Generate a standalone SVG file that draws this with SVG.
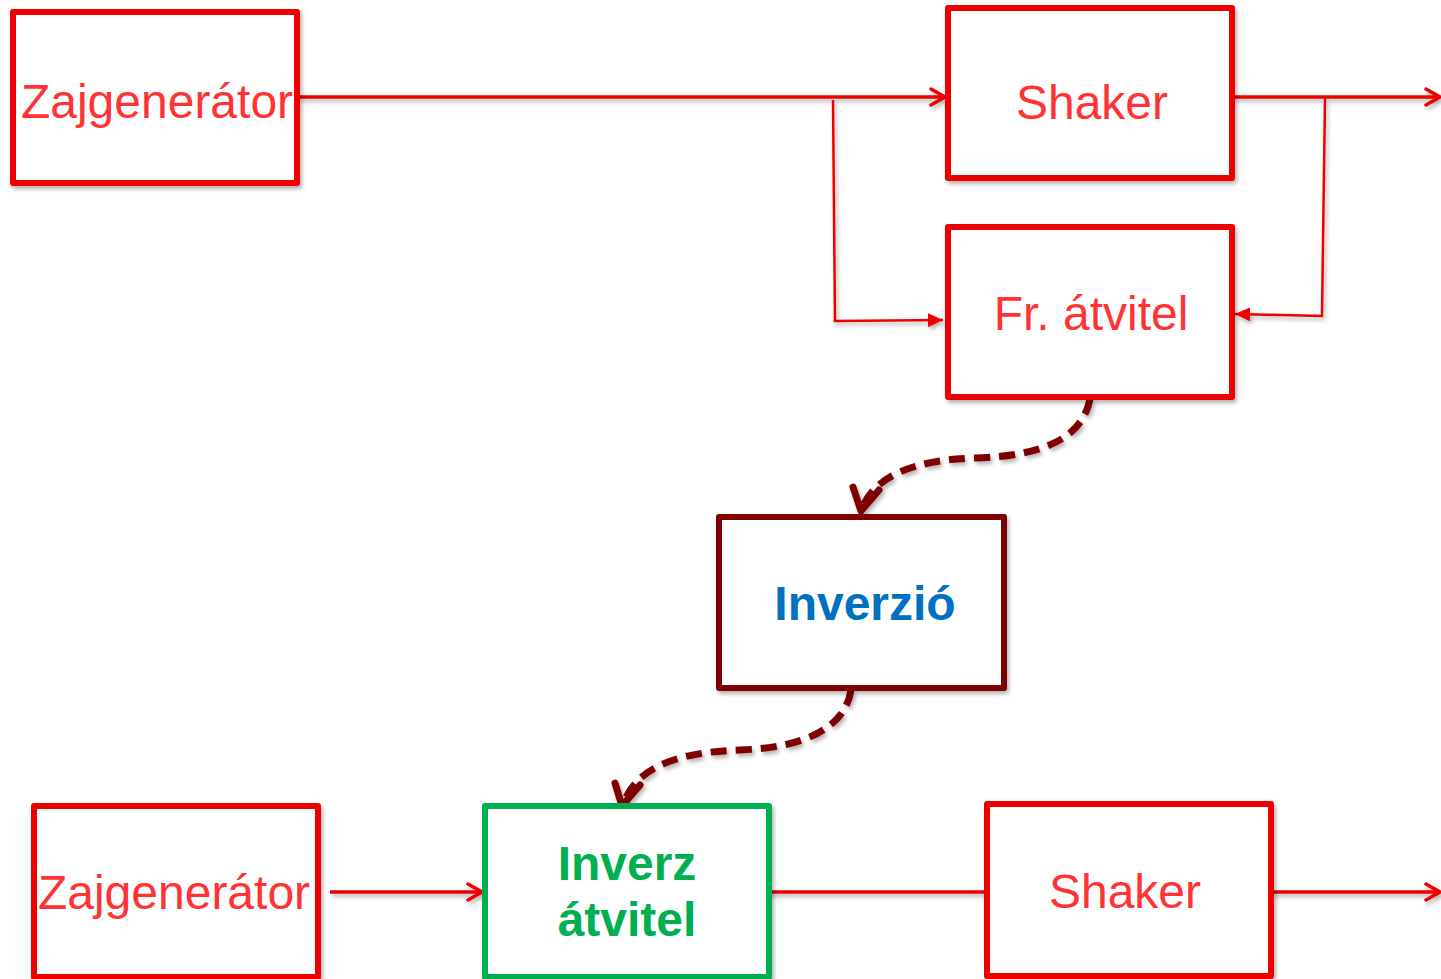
<svg xmlns="http://www.w3.org/2000/svg" width="1441" height="979" viewBox="0 0 1441 979">
<style>
.box{fill:#fff;stroke:#EE0000;stroke-width:6;stroke-linejoin:round}
.lbl{font-family:"Liberation Sans",Arial,sans-serif;font-size:48px;fill:#FF3333;text-anchor:middle}
.bold{font-weight:bold}
.ln{fill:none;stroke:#EE0000;stroke-width:3.5}
.thin{fill:none;stroke:#EE0000;stroke-width:2.5}
.dash{fill:none;stroke:#7F0000;stroke-width:7;stroke-dasharray:16 9}
.head{fill:none;stroke:#7F0000;stroke-width:7;stroke-linecap:round;stroke-linejoin:round}
</style>
<defs>
<filter id="sh" x="-10%" y="-10%" width="130%" height="130%">
<feDropShadow dx="2" dy="3" stdDeviation="2" flood-color="#000" flood-opacity="0.3"/>
</filter>
<marker id="open" viewBox="0 0 20 20" refX="18" refY="10" markerWidth="20" markerHeight="20" markerUnits="userSpaceOnUse" orient="auto">
<path d="M4,2 L18,10 L4,18" fill="none" stroke="#EE0000" stroke-width="3.5" stroke-linecap="round" stroke-linejoin="round"/>
</marker>
<marker id="tri" viewBox="0 0 16 16" refX="15" refY="8" markerWidth="16" markerHeight="16" markerUnits="userSpaceOnUse" orient="auto">
<path d="M0,1 L15,8 L0,15 Z" fill="#EE0000"/>
</marker>
</defs>
<g id="connectors" filter="url(#sh)">
<path class="ln" d="M297,97 L945,97" marker-end="url(#open)"/>
<path class="thin" d="M833,100 L835,321 L943,320" marker-end="url(#tri)"/>
<path class="ln" d="M1232,97 L1440,97" marker-end="url(#open)"/>
<path class="thin" d="M1325,98 L1322,316 L1235,314" marker-end="url(#tri)"/>
<path class="dash" d="M1090,399 C1082,440 1040,456 975,458 C915,460 876,475 862,508"/>
<path class="head" d="M853,487 L861,511 L879,490"/>
<path class="dash" d="M851,690 C845,730 800,748 740,750 C680,752 638,766 624,802"/>
<path class="head" d="M615,783 L622,806 L640,785"/>
<path class="ln" d="M330,892 L482,892" marker-end="url(#open)"/>
<path class="ln" d="M767,892 L987,892"/>
<path class="ln" d="M1271,892 L1440,892" marker-end="url(#open)"/>
</g>
<g id="zaj1"><rect class="box" x="13" y="12" width="284" height="171" filter="url(#sh)"/><text class="lbl" x="157" y="118">Zajgenerátor</text></g>
<g id="shaker1"><rect class="box" x="948" y="8" width="284" height="170" filter="url(#sh)"/><text class="lbl" x="1092" y="119">Shaker</text></g>
<g id="frat"><rect class="box" x="948" y="227" width="284" height="170" filter="url(#sh)"/><text class="lbl" x="1091" y="330">Fr. átvitel</text></g>
<g id="inverzio"><rect class="box" style="stroke:#7F0000" x="719" y="517" width="285" height="171" filter="url(#sh)"/><text class="lbl bold" style="fill:#0070C0" x="865" y="620">Inverzió</text></g>
<g id="zaj2"><rect class="box" x="34" y="806" width="284" height="171" filter="url(#sh)"/><text class="lbl" x="174" y="909">Zajgenerátor</text></g>
<g id="invat"><rect class="box" style="stroke:#00B050" x="485" y="806" width="284" height="171" filter="url(#sh)"/><text class="lbl bold" style="fill:#00B050" x="627" y="880">Inverz</text><text class="lbl bold" style="fill:#00B050" x="627" y="936">átvitel</text></g>
<g id="shaker2"><rect class="box" x="987" y="804" width="284" height="172" filter="url(#sh)"/><text class="lbl" x="1125" y="908">Shaker</text></g>
</svg>
